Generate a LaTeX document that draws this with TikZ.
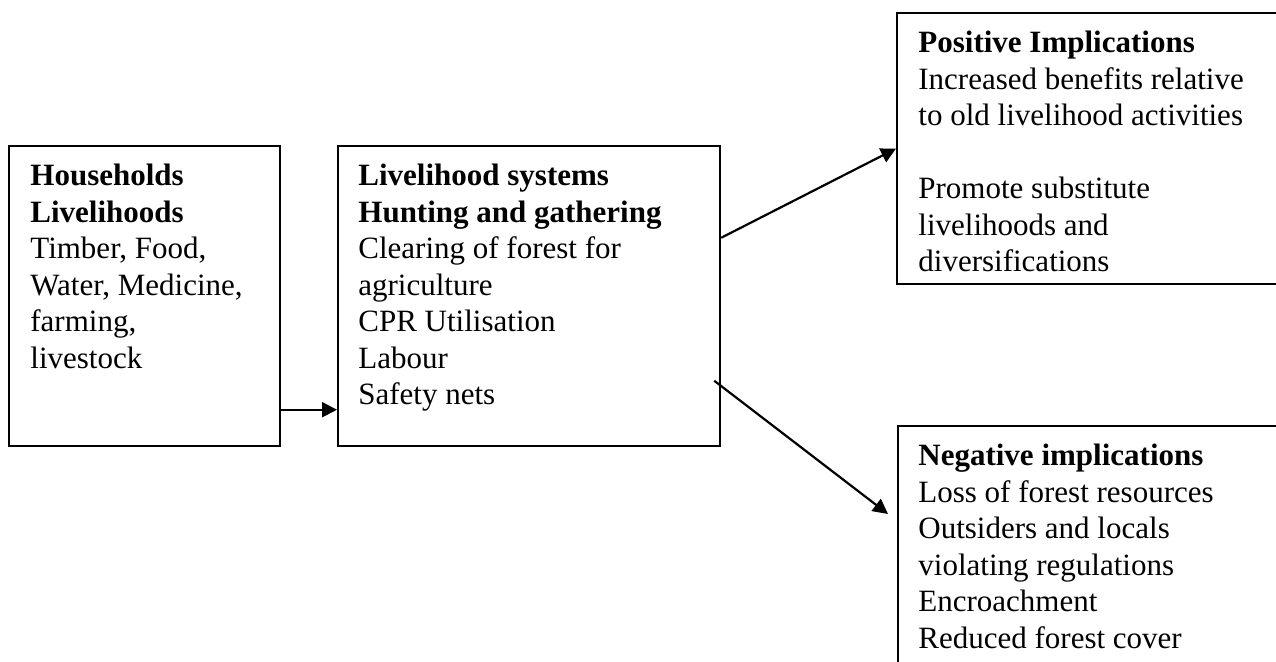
\documentclass[tikz,border=0pt]{standalone}
\usepackage{fontspec}
\setmainfont{Liberation Serif}
\usetikzlibrary{arrows.meta,calc}
\begin{document}
\begin{tikzpicture}[x=0.5pt,y=-0.5pt,
  box/.style={draw, line width=1.1pt, inner sep=0pt, anchor=north west},
  txt/.style={anchor=north west, inner sep=0pt, align=left, font=\fontsize{15.5}{18.25}\selectfont},
  conn/.style={line width=1.1pt, -{Triangle[length=7.5pt,width=7.5pt]}}]
\useasboundingbox (0,0) rectangle (1276,662);
\fill[white] (0,0) rectangle (1276,662);
\begin{scope}
\clip (0,0) rectangle (1276,662);
\node[box, minimum width=135.5pt, minimum height=150pt] (b1) at (8,145) {};
\node[box, minimum width=191pt, minimum height=150pt] (b2) at (337,145) {};
\node[box, minimum width=202pt, minimum height=135.5pt] (b3) at (896,12) {};
\node[box, minimum width=201.5pt, minimum height=147.5pt] (b4) at (897,425) {};

\node[txt] (t1) at (30,164) {\textbf{Households}\\\textbf{Livelihoods}\\Timber, Food,\\Water, Medicine,\\farming,\\livestock};
\node[txt] (t2) at (358,164) {\textbf{Livelihood systems}\\\textbf{Hunting and gathering}\\Clearing of forest for\\agriculture\\CPR Utilisation\\Labour\\Safety nets};
\node[txt] (t3) at (918,31) {\textbf{Positive Implications}\\Increased benefits relative\\to old livelihood activities\\[18.25pt]Promote substitute\\livelihoods and\\diversifications};
\node[txt] (t4) at (918,444) {\textbf{Negative implications}\\Loss of forest resources\\Outsiders and locals\\violating regulations\\Encroachment\\Reduced forest cover};

\coordinate (s1) at ($(b1.north east)!0.876!(b1.south east)$);
\coordinate (e1) at ($(b2.north west)!0.876!(b2.south west)$);
\coordinate (s2) at ($(b2.north east)!0.307!(b2.south east)$);
\coordinate (s3) at ($(b2.north east)!0.78!(b2.south east)+(-7,0)$);
\coordinate (e3) at ($(b4.north west)+(-9,89)$);
\draw[conn] (s1) -- (e1);
\draw[conn] (s2) -- (b3.west);
\draw[conn] (s3) -- (e3);
\end{scope}
\end{tikzpicture}
\end{document}
